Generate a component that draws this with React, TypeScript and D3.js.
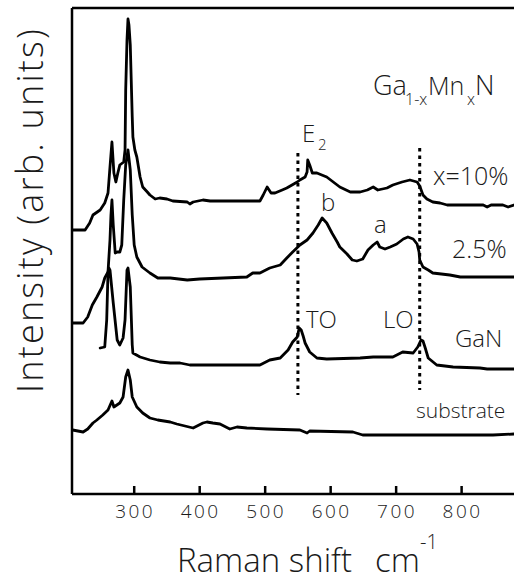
import React from "react";
import * as d3 from "d3";

// Raman spectra: [wavenumber (cm^-1), intensity (arb. units, offset stacked)]
const x10: [number, number][] = [
  [206, 264], [225, 264], [232, 271], [237, 279], [248, 284], [255, 291], [260, 301], [263, 327],
  [266, 352], [269, 321], [272, 312], [275, 321], [278, 329], [284, 332], [286, 344], [287, 404],
  [289, 454], [290.5, 475], [292, 469], [294, 449], [297, 377], [298, 357], [301, 344], [304, 337],
  [309, 317], [313, 307], [320, 302], [324, 299], [332, 295], [339, 296], [350, 295], [359, 293],
  [381, 292], [385, 290], [390, 292], [405, 294], [416, 293], [474, 293], [492, 293], [497, 299],
  [503, 307], [509, 301], [515, 301], [526, 304], [533, 306], [541, 309], [549, 312], [553, 314],
  [561, 317], [564, 322], [565, 334], [568, 329], [572, 321], [579, 321], [594, 317], [604, 312],
  [614, 307], [630, 302], [645, 302], [656, 304], [665, 307], [672, 304], [686, 306], [695, 309],
  [709, 312], [721, 314], [732, 312], [736, 308], [741, 299], [747, 295], [756, 292], [767, 291],
  [778, 289], [833, 289], [839, 287], [845, 289], [863, 289], [871, 287], [880, 289],
];

const x25: [number, number][] = [
  [206, 171], [222, 171], [229, 177], [236, 189], [243, 197], [251, 207], [255, 216], [260, 222],
  [263, 254], [264.5, 279], [266, 294], [268, 269], [271, 241], [274, 242], [278, 242], [281, 249],
  [284, 294], [287, 329], [290.5, 344], [294, 324], [297, 279], [300, 249], [304, 237], [312, 227],
  [324, 221], [336, 216], [355, 216], [381, 214], [400, 215], [472, 217], [481, 221], [492, 221],
  [507, 226], [523, 229], [533, 236], [542, 242], [553, 249], [564, 254], [573, 261], [581, 269],
  [587, 276], [594, 271], [602, 261], [610, 252], [614, 247], [625, 240], [633, 234], [640, 233],
  [649, 235], [657, 244], [665, 249], [671, 252], [675, 247], [683, 245], [691, 247], [701, 250],
  [711, 255], [718, 257], [726, 255], [732, 250], [735, 242], [736, 234], [741, 227], [749, 224],
  [756, 221], [782, 219], [798, 217], [880, 217],
];

const gan: [number, number][] = [
  [248, 146], [255, 147], [258, 174], [260, 222], [261.5, 226], [263, 224], [268, 191], [274, 154],
  [278, 149], [283, 156], [286, 174], [289, 224], [290.5, 226], [294, 207], [297, 149], [298, 141],
  [309, 137], [324, 134], [339, 132], [355, 131], [370, 131], [385, 129], [492, 129], [507, 134],
  [523, 136], [535, 144], [542, 152], [549, 157], [552, 166], [555, 164], [558, 158], [561, 151],
  [568, 142], [579, 136], [594, 135], [645, 136], [665, 137], [695, 137], [710, 142], [726, 141],
  [733, 147], [738, 154], [741, 153], [744, 147], [749, 136], [762, 129], [787, 127], [828, 126],
  [839, 125], [880, 125],
];

const substrate: [number, number][] = [
  [206, 64], [222, 62], [229, 65], [237, 71], [243, 74], [252, 79], [260, 84], [266, 93], [269, 87],
  [278, 91], [283, 97], [287, 117], [290.5, 124], [294, 114], [297, 97], [304, 87], [313, 81],
  [324, 76], [336, 74], [355, 72], [365, 70], [390, 66], [405, 71], [411, 72], [420, 71], [431, 70],
  [446, 65], [457, 67], [472, 66], [503, 65], [553, 64], [564, 61], [568, 63], [634, 62], [649, 59],
  [798, 59], [848, 59], [880, 60],
];

const seriesList = [x10, x25, gan, substrate];

const xTicks = [300, 400, 500, 600, 700, 800];

// dotted mode markers: wavenumber, top / bottom intensity
const markerWn = [550, 736];
const markerTop = [341, 346];
const markerBottom = [99, 104];

const FONT = "'Open Sans', 'DejaVu Sans', sans-serif";

export default function App() {
  const left = 72, right = 514, top = 8, bottom = 494;
  const x = d3.scaleLinear().domain([205, 880]).range([left, right]);
  const y = d3.scaleLinear().domain([0, 486]).range([bottom, top]);
  const line = d3
    .line<[number, number]>()
    .x((d) => x(d[0]))
    .y((d) => y(d[1]));

  const txt = { fontFamily: FONT, fontWeight: 300, fill: "#1a1a1a" } as const;

  return (
    <svg
      width={514}
      height={585}
      style={{ position: "absolute", left: 0, top: 0, background: "#fff" }}
    >
      {/* frame */}
      <line x1={left} x2={left} y1={top} y2={bottom} stroke="#000" strokeWidth={2.5} />
      <line x1={left} x2={right} y1={top} y2={top} stroke="#000" strokeWidth={2.5} />
      <line x1={left} x2={right} y1={bottom} y2={bottom} stroke="#000" strokeWidth={2.5} />
      {xTicks.map((t) => (
        <g key={t}>
          <line x1={x(t)} x2={x(t)} y1={bottom} y2={bottom - 8} stroke="#000" strokeWidth={2.5} />
          <text x={x(t) + 1} y={518} textAnchor="middle" fontSize={19} letterSpacing={2.5} {...txt}>
            {t}
          </text>
        </g>
      ))}

      {/* spectra */}
      {seriesList.map((s, i) => (
        <path
          key={i}
          d={line(s) || ""}
          fill="none"
          stroke="#000"
          strokeWidth={2.8}
          strokeLinejoin="round"
          strokeLinecap="round"
        />
      ))}

      {/* dotted lines */}
      {markerWn.map((w, i) => (
        <line
          key={w}
          x1={x(w)}
          x2={x(w)}
          y1={y(markerTop[i])}
          y2={y(markerBottom[i])}
          stroke="#000"
          strokeWidth={3}
          strokeDasharray="3.5 4"
        />
      ))}

      {/* labels */}
      <text x={373} y={95} fontSize={27} {...txt}>Ga</text>
      <text x={405} y={105} fontSize={16} {...txt}>1-x</text>
      <text x={428} y={95} fontSize={25} {...txt}>Mn</text>
      <text x={467} y={105} fontSize={16} {...txt}>x</text>
      <text x={475} y={95} fontSize={27} {...txt}>N</text>

      <text x={302} y={142} fontSize={24} {...txt}>E</text>
      <text x={318} y={150} fontSize={15} {...txt}>2</text>

      <text x={433} y={185} fontSize={25} {...txt}>x=10%</text>
      <text x={321} y={211} fontSize={24} {...txt}>b</text>
      <text x={374} y={233} fontSize={24} {...txt}>a</text>
      <text x={452} y={258} fontSize={25} {...txt}>2.5%</text>
      <text x={306} y={328} fontSize={24} {...txt}>TO</text>
      <text x={383} y={328} fontSize={24} {...txt}>LO</text>
      <text x={455} y={347} fontSize={24} {...txt}>GaN</text>
      <text x={416} y={418} fontSize={21} {...txt}>substrate</text>

      {/* axis titles */}
      <text x={177} y={572} fontSize={33} {...txt}>Raman shift</text>
      <text x={375} y={572} fontSize={33} {...txt}>cm</text>
      <text x={420} y={549} fontSize={20} {...txt}>-1</text>
      <text
        transform={`translate(43,210) rotate(-90)`}
        textAnchor="middle"
        fontSize={36}
        letterSpacing={2.2}
        {...txt}
      >
        Intensity (arb. units)
      </text>
    </svg>
  );
}
